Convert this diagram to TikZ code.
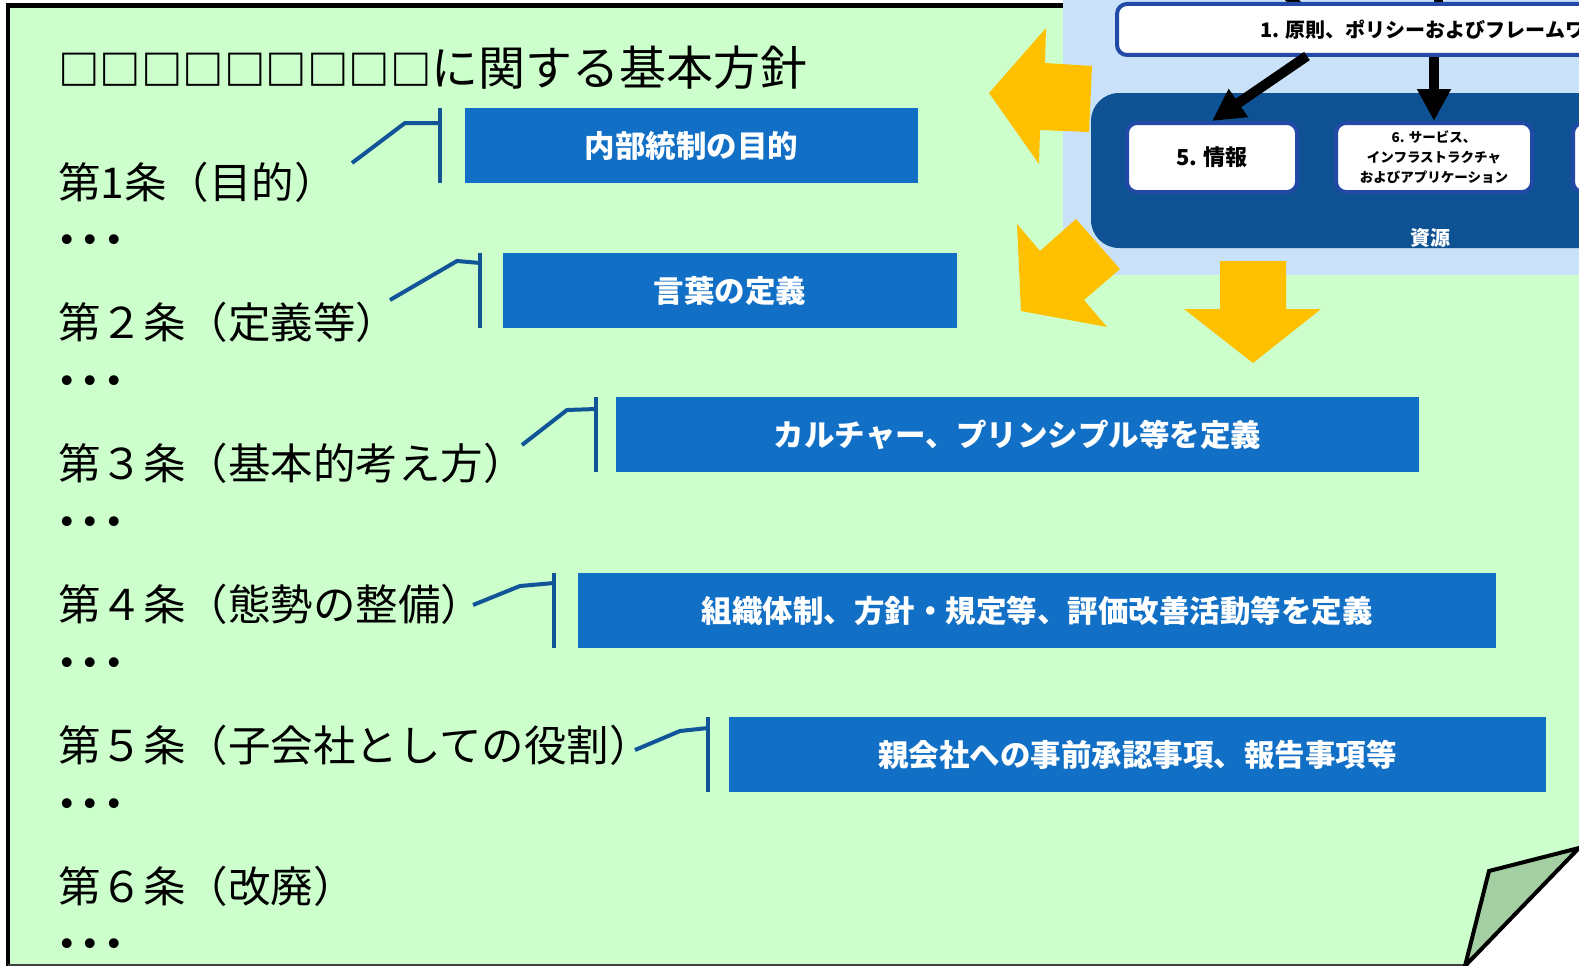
\documentclass[tikz,border=0pt]{standalone}
\usepackage{fontspec}
\newfontfamily\jp{Noto Sans CJK JP}
\usetikzlibrary{arrows.meta,calc}
\definecolor{pagegreen}{HTML}{CCFFCC}
\definecolor{panelblue}{HTML}{C9E2F9}
\definecolor{groupblue}{HTML}{0E5294}
\definecolor{ringblue}{HTML}{2149A5}
\definecolor{boxblue}{HTML}{1170C6}
\definecolor{linkblue}{HTML}{115497}
\definecolor{amber}{HTML}{FFC000}
\definecolor{curlgreen}{HTML}{A3CFA3}
\begin{document}
\begin{tikzpicture}[x=1pt,y=-1pt,
  titletext/.style={anchor=west,inner sep=0pt,font=\jp\fontsize{47}{47}\selectfont,text height=41pt,text depth=6pt},
  article/.style={anchor=west,inner sep=0pt,font=\jp\fontsize{42.5}{42.5}\selectfont,text height=37pt,text depth=5pt},
  dots/.style={anchor=base west,inner sep=0pt,font=\jp\bfseries\fontsize{47}{47}\selectfont},
  bluebox/.style={fill=boxblue,draw=none,text=white,inner sep=0pt,minimum height=75pt,font=\jp\bfseries\fontsize{30.5}{30.5}\selectfont},
  link/.style={draw=linkblue,line width=4pt},
  whitebox/.style={fill=white,draw=ringblue,line width=4pt,rounded corners=10pt,inner sep=0pt,minimum height=69pt},
  blackarrow/.style={draw=black,line width=10pt,-{Triangle[width=32pt,length=32pt]}},
  amberarrow/.style={fill=amber,draw=none}
]
\useasboundingbox (0,0) rectangle (1579,966);
\clip (0,0) rectangle (1579,966);
\fill[white] (0,0) rectangle (1579,966);
% page
\fill[pagegreen] (8,5) -- (1579,5) -- (1579,848) -- (1465,966) -- (8,966) -- cycle;
\draw[black,line width=4.5pt] (8,966) -- (8,5.5) -- (1063,5.5);
\draw[black!75,line width=2pt] (8,965) -- (1466,965);
% page curl
\filldraw[fill=curlgreen,draw=black,line width=4pt,line join=miter] (1465,966) -- (1489,871) -- (1579,848) -- cycle;

% upper right panel
\fill[panelblue] (1063,0) rectangle (1579,275);
\fill[groupblue,rounded corners=28pt] (1091,93) rectangle (1800,248);
\node[inner sep=0pt,text=white,font=\jp\bfseries\fontsize{20}{20}\selectfont] (res) at (1430,238) {資源};

\coordinate (in1) at (1280,-12);
\coordinate (in2) at (1438,-12);
\draw[line width=10pt] (in1) -- (1302,10);
\draw[line width=9pt] (in2) -- (1438,10);
\node[whitebox,minimum width=652pt,minimum height=51pt,font=\jp\bfseries\fontsize{20}{20}\selectfont] (p1) at (1443,29.5) {1. 原則、ポリシーおよびフレームワーク};
\node[whitebox,minimum width=170pt,font=\jp\bfseries\fontsize{22}{22}\selectfont] (p5) at (1212,157.5) {5. 情報};
\node[whitebox,minimum width=196pt,align=center,font=\jp\bfseries\fontsize{13.5}{20}\selectfont] (p6) at (1434,157.5) {6. サービス、\\インフラストラクチャ\\およびアプリケーション};
\node[whitebox,minimum width=196pt] (p7) at (1671,157.5) {};
\coordinate (s15) at (1307,56);
\draw[blackarrow] (s15) -- (p5.north);
\draw[blackarrow] (p1.south -| p6.north) -- (p6.north);

% amber block arrows
\fill[amberarrow] (989,93) -- (1046,28) -- (1045,63) -- (1092,66) -- (1089,132) -- (1040,130) -- (1039,164) -- cycle;
\fill[amberarrow] (1021,311) -- (1017,224) -- (1040,251) -- (1076,219) -- (1120,269) -- (1084,300) -- (1107,327) -- cycle;
\fill[amberarrow] (1220,261) -- (1286,261) -- (1286,309) -- (1321,309) -- (1253,363) -- (1184,309) -- (1220,309) -- cycle;

% title
\node[titletext] (title) at (58,68) {{\bfseries\fontsize{41.5}{41.5}\selectfont □□□□□□□□□}に関する基本方針};

% articles
\node[article] (a1) at (58,182) {第1条（目的）};
\node[article] (a2) at (58,322) {第２条（定義等）};
\node[article] (a3) at (58,463) {第３条（基本的考え方）};
\node[article] (a4) at (58,604) {第４条（態勢の整備）};
\node[article] (a5) at (58,745) {第５条（子会社としての役割）};
\node[article] (a6) at (58,886) {第６条（改廃）};

\node[dots] (d1) at (55,257) {･･･};
\node[dots] (d2) at (55,398) {･･･};
\node[dots] (d3) at (55,539) {･･･};
\node[dots] (d4) at (55,680) {･･･};
\node[dots] (d5) at (55,821) {･･･};
\node[dots] (d6) at (55,961) {･･･};

% blue boxes
\node[bluebox,minimum width=453pt] (b1) at (691.5,145.5) {内部統制の目的};
\node[bluebox,minimum width=454pt] (b2) at (730,290.5) {言葉の定義};
\node[bluebox,minimum width=803pt] (b3) at (1017.5,434.5) {カルチャー、プリンシプル等を定義};
\node[bluebox,minimum width=918pt] (b4) at (1037,610.5) {組織体制、方針・規定等、評価改善活動等を定義};
\node[bluebox,minimum width=817pt] (b5) at (1137.5,754.5) {親会社への事前承認事項、報告事項等};

% brackets
\coordinate (k1) at (352,163);
\coordinate (k2) at (390,300);
\coordinate (k3) at (522,445);
\coordinate (k4) at (473,605);
\coordinate (k5) at (635,750);
\draw[link] (k1) -- (405,123) -- (440,123);
\draw[link] ($(b1.north west)+(-25,0)$) -- ($(b1.south west)+(-25,0)$);
\draw[link] (k2) -- (457,261) -- (480,263);
\draw[link] ($(b2.north west)+(-23,0)$) -- ($(b2.south west)+(-23,0)$);
\draw[link] (k3) -- (567,410) -- (596,409);
\draw[link] ($(b3.north west)+(-20,0)$) -- ($(b3.south west)+(-20,0)$);
\draw[link] (k4) -- (520,586) -- (554,583);
\draw[link] ($(b4.north west)+(-24,0)$) -- ($(b4.south west)+(-24,0)$);
\draw[link] (k5) -- (680,731) -- (708,728);
\draw[link] ($(b5.north west)+(-21,0)$) -- ($(b5.south west)+(-21,0)$);
\end{tikzpicture}
\end{document}
